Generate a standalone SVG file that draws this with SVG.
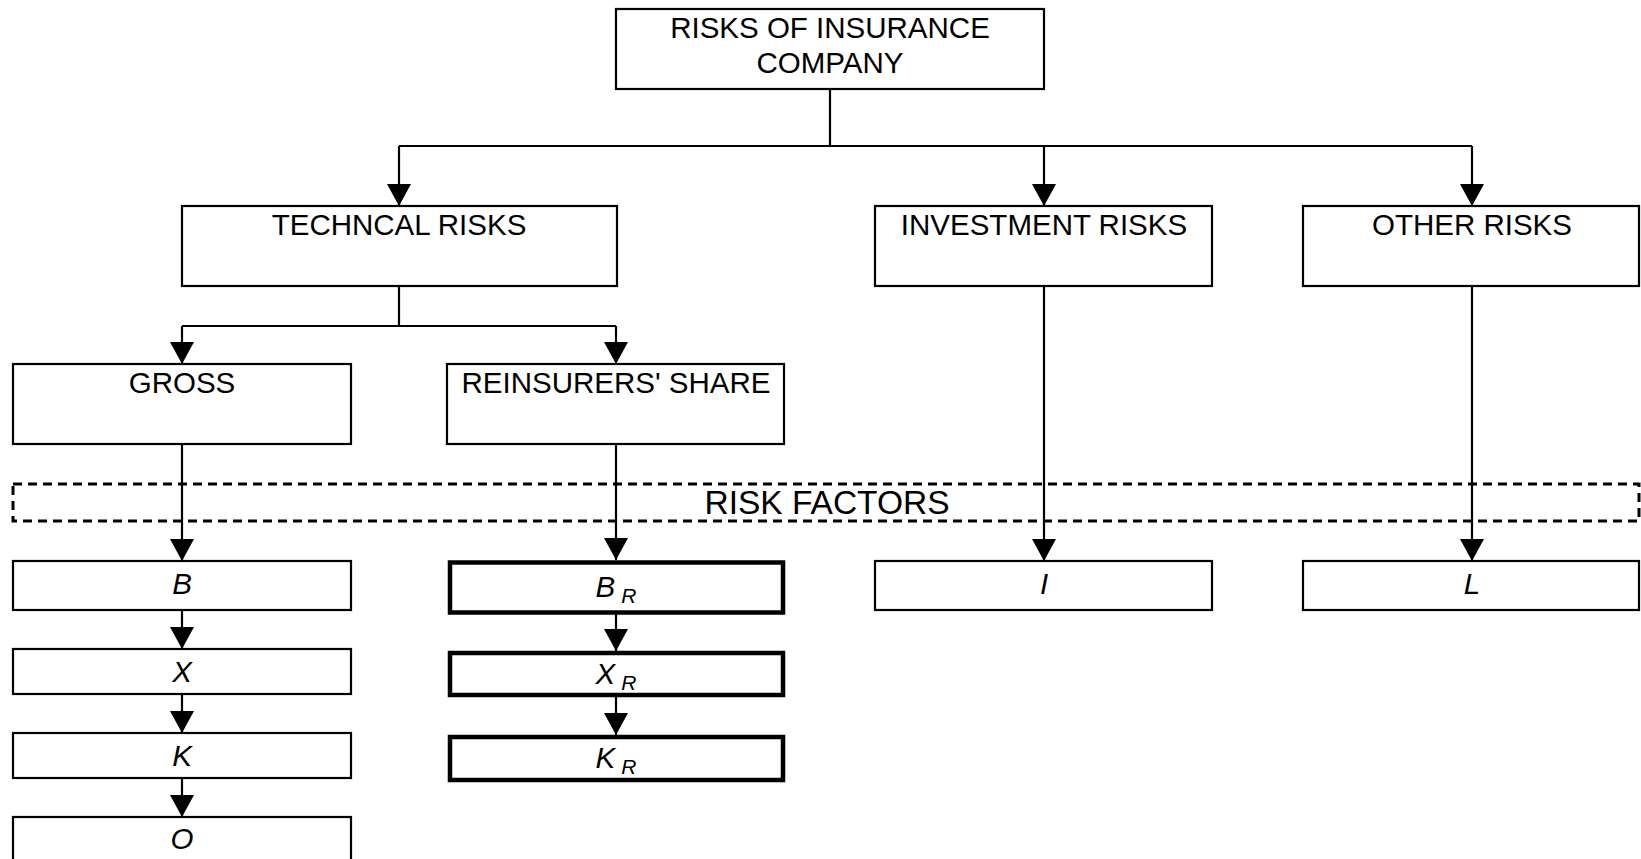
<svg xmlns="http://www.w3.org/2000/svg" width="1641" height="859" viewBox="0 0 1641 859">
<defs>
<marker id="arr" viewBox="0 0 22 24" refX="22" refY="12" markerWidth="22" markerHeight="24" markerUnits="userSpaceOnUse" orient="auto">
<path d="M0,0 L22,12 L0,24 z" fill="#000"/>
</marker>
<style>
.box{fill:#fff;stroke:#000;stroke-width:2.2}
.thick{fill:#fff;stroke:#000;stroke-width:4.5}
.dash{fill:none;stroke:#000;stroke-width:3;stroke-dasharray:9 6}
.t{font-family:"Liberation Sans",Arial,sans-serif;font-size:29.5px;fill:#000;text-anchor:middle}
.big{font-size:33.5px}
.i{font-style:italic}
.sub{font-size:21px}
.ln{fill:none;stroke:#000;stroke-width:2.2}
.ar{fill:none;stroke:#000;stroke-width:2.2;marker-end:url(#arr)}
</style>
</defs>
<rect width="1641" height="859" fill="#fff"/>

<g id="risk-factors">
<rect class="dash" x="13" y="484" width="1626" height="37"/>
<text class="t big" x="827" y="514">RISK FACTORS</text>
</g>

<g id="connectors">
<path class="ln" d="M830,89 V146 M399,146 H1472"/>
<path class="ar" d="M399,146 V206"/>
<path class="ar" d="M1044,146 V206"/>
<path class="ar" d="M1472,146 V206"/>
<path class="ln" d="M399,286 V326 M182,326 H616"/>
<path class="ar" d="M182,326 V364"/>
<path class="ar" d="M616,326 V364"/>
<path class="ar" d="M182,444 V561"/>
<path class="ar" d="M616,444 V560"/>
<path class="ar" d="M1044,286 V561"/>
<path class="ar" d="M1472,286 V561"/>
<path class="ar" d="M182,610 V649"/>
<path class="ar" d="M182,694 V733"/>
<path class="ar" d="M182,778 V817"/>
<path class="ar" d="M616,614 V651"/>
<path class="ar" d="M616,697 V735"/>
</g>

<g id="company">
<rect class="box" x="616" y="9" width="428" height="80"/>
<text class="t" x="830" y="38">RISKS OF INSURANCE</text>
<text class="t" x="830" y="73">COMPANY</text>
</g>

<g id="technical">
<rect class="box" x="182" y="206" width="435" height="80"/>
<text class="t" x="399" y="235">TECHNCAL RISKS</text>
</g>
<g id="investment">
<rect class="box" x="875" y="206" width="337" height="80"/>
<text class="t" x="1044" y="235">INVESTMENT RISKS</text>
</g>
<g id="other">
<rect class="box" x="1303" y="206" width="336" height="80"/>
<text class="t" x="1472" y="235">OTHER RISKS</text>
</g>

<g id="gross">
<rect class="box" x="13" y="364" width="338" height="80"/>
<text class="t" x="182" y="393">GROSS</text>
</g>
<g id="reinsurers">
<rect class="box" x="447" y="364" width="337" height="80"/>
<text class="t" x="616" y="393">REINSURERS' SHARE</text>
</g>

<g id="B">
<rect class="box" x="13" y="561" width="338" height="49"/>
<text class="t i" x="182" y="594">B</text>
</g>
<g id="X">
<rect class="box" x="13" y="649" width="338" height="45"/>
<text class="t i" x="182" y="682">X</text>
</g>
<g id="K">
<rect class="box" x="13" y="733" width="338" height="45"/>
<text class="t i" x="182" y="766">K</text>
</g>
<g id="O">
<rect class="box" x="13" y="817" width="338" height="60"/>
<text class="t i" x="182" y="849">O</text>
</g>

<g id="BR">
<rect class="thick" x="450" y="562.5" width="333" height="50"/>
<text class="t i" x="616" y="597">B<tspan class="sub" dx="6" dy="6">R</tspan></text>
</g>
<g id="XR">
<rect class="thick" x="450" y="653" width="333" height="42"/>
<text class="t i" x="616" y="684">X<tspan class="sub" dx="6" dy="6">R</tspan></text>
</g>
<g id="KR">
<rect class="thick" x="450" y="737" width="333" height="43"/>
<text class="t i" x="616" y="768">K<tspan class="sub" dx="6" dy="6">R</tspan></text>
</g>

<g id="I">
<rect class="box" x="875" y="561" width="337" height="49"/>
<text class="t i" x="1044" y="594">I</text>
</g>
<g id="L">
<rect class="box" x="1303" y="561" width="336" height="49"/>
<text class="t i" x="1472" y="594">L</text>
</g>
</svg>
